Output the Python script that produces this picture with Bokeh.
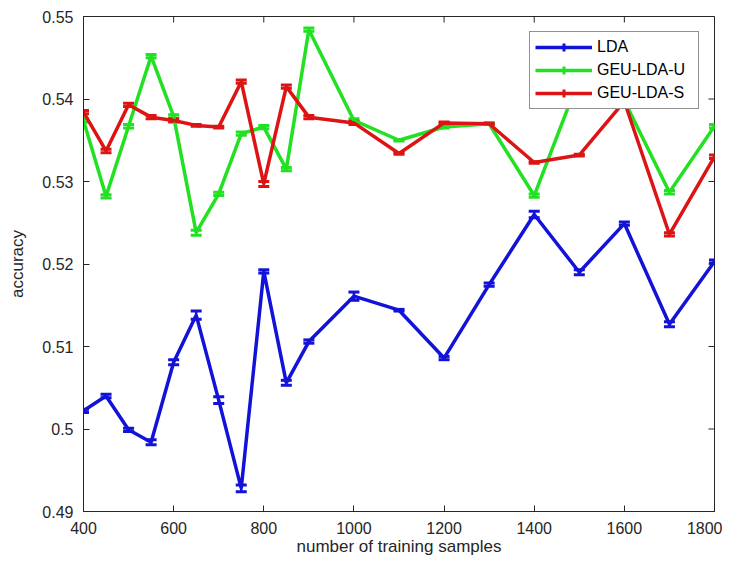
import math
from bokeh.plotting import figure
from bokeh.models import (ColumnDataSource, Whisker, TeeHead, FixedTicker,
                          Legend, LegendItem, Range1d)
from bokeh.embed import file_html
from bokeh.resources import INLINE

# ---- data ----
samples = [400, 450, 500, 550, 600, 650, 700, 750, 800, 850, 900,
           1000, 1100, 1200, 1300, 1400, 1500, 1600, 1700, 1800]

lda = [0.5022, 0.5040, 0.4999, 0.4984, 0.5081, 0.5138, 0.5035, 0.4928, 0.5191, 0.5056, 0.5106,
       0.5161, 0.5144, 0.5086, 0.5175, 0.5260, 0.5190, 0.5249, 0.5127, 0.5203]
lda_err = [0.0002, 0.0002, 0.0002, 0.0003, 0.0003, 0.0005, 0.0004, 0.0004, 0.0002, 0.0003, 0.0002,
           0.0005, 0.0001, 0.0002, 0.0002, 0.0004, 0.0003, 0.0002, 0.0003, 0.0002]

geu_u = [0.5374, 0.5282, 0.5367, 0.5452, 0.5379, 0.5238, 0.5285, 0.5358, 0.5366, 0.5315, 0.5484,
         0.5374, 0.5350, 0.5366, 0.5370, 0.5283, 0.5425, 0.5398, 0.5287, 0.5367]
geu_u_err = [0.0002, 0.0002, 0.0002, 0.0002, 0.0002, 0.0003, 0.0002, 0.0002, 0.0002, 0.0002, 0.0002,
             0.0002, 0.0001, 0.0001, 0.0001, 0.0002, 0.0002, 0.0002, 0.0002, 0.0002]

geu_s = [0.5384, 0.5337, 0.5393, 0.5378, 0.5374, 0.5368, 0.5366, 0.5421, 0.5297, 0.5415, 0.5378,
         0.5371, 0.5334, 0.5371, 0.5370, 0.5323, 0.5332, 0.5397, 0.5236, 0.5330]
geu_s_err = [0.0002, 0.0002, 0.0002, 0.0002, 0.0002, 0.0001, 0.0001, 0.0002, 0.0003, 0.0002, 0.0002,
             0.0002, 0.0001, 0.0001, 0.0001, 0.0001, 0.0001, 0.0002, 0.0002, 0.0002]

series_names = ["LDA", "GEU-LDA-U", "GEU-LDA-S"]
series_colors = ["#1212d8", "#22e022", "#dc1414"]

x_ticks = [400, 600, 800, 1000, 1200, 1400, 1600, 1800]
y_ticks = [0.49, 0.5, 0.51, 0.52, 0.53, 0.54, 0.55]
y_tick_labels = ["0.49", "0.5", "0.51", "0.52", "0.53", "0.54", "0.55"]

FONT = "Liberation Sans"
AXC = "#262626"

p = figure(width=722, height=558, output_backend="svg", toolbar_location=None,
           x_range=Range1d(x_ticks[0], x_ticks[-1]), y_range=Range1d(y_ticks[0], y_ticks[-1]),
           min_border_left=83, min_border_right=8, min_border_top=16, min_border_bottom=45,
           x_axis_label="number of training samples", y_axis_label="accuracy")
p.grid.visible = False
p.outline_line_color = AXC
p.outline_line_width = 1
p.background_fill_color = "white"
p.border_fill_color = "white"

for ax in (p.xaxis[0], p.yaxis[0]):
    ax.major_tick_in = 6
    ax.major_tick_out = 0
    ax.minor_tick_line_color = None
    ax.axis_line_color = AXC
    ax.major_tick_line_color = AXC
    ax.major_label_text_font = FONT
    ax.major_label_text_font_size = "16px"
    ax.major_label_text_color = AXC
    ax.axis_label_text_font = FONT
    ax.axis_label_text_font_size = "17px"
    ax.axis_label_text_font_style = "normal"
    ax.axis_label_text_color = AXC

p.xaxis[0].ticker = FixedTicker(ticks=x_ticks)
p.yaxis[0].ticker = FixedTicker(ticks=y_ticks)
p.yaxis[0].major_label_overrides = {t: s for t, s in zip(y_ticks, y_tick_labels)}
p.xaxis[0].major_label_standoff = 10
p.xaxis[0].axis_label_standoff = 0
p.yaxis[0].major_label_standoff = 10
p.yaxis[0].axis_label_standoff = 12

# inward tick marks on the top and right edges (MATLAB box)
p.ray(x=x_ticks, y=[y_ticks[-1]] * len(x_ticks), length=6, length_units="screen",
      angle=-math.pi / 2, line_color=AXC, line_width=1)
p.ray(x=[x_ticks[-1]] * len(y_ticks), y=y_ticks, length=6, length_units="screen",
      angle=math.pi, line_color=AXC, line_width=1)

items = []
all_vals = [(lda, lda_err), (geu_u, geu_u_err), (geu_s, geu_s_err)]
for name, color, (vals, errs) in zip(series_names, series_colors, all_vals):
    src = ColumnDataSource(dict(
        x=samples, y=vals,
        lower=[v - e for v, e in zip(vals, errs)],
        upper=[v + e for v, e in zip(vals, errs)],
    ))
    line = p.line("x", "y", source=src, line_color=color, line_width=3.5)
    wh = Whisker(source=src, base="x", lower="lower", upper="upper", dimension="height",
                 line_color=color, line_width=2.5,
                 upper_head=TeeHead(size=11, line_color=color, line_width=3),
                 lower_head=TeeHead(size=11, line_color=color, line_width=3))
    p.add_layout(wh)
    # zero-size marker: invisible in the plot, draws the vertical error-bar stroke in the legend
    marker = p.scatter("x", "y", source=src, marker="cross", size=0,
                       line_color=color, line_width=3)
    items.append(LegendItem(label=name, renderers=[line, marker]))

legend = Legend(items=items, location="top_right", margin=15,
                border_line_color=AXC, border_line_width=1,
                background_fill_color="white", background_fill_alpha=1.0,
                label_text_font=FONT, label_text_font_size="16px", label_text_color="black",
                glyph_width=57, glyph_height=20, label_height=20, label_width=96,
                spacing=3, padding=5, label_standoff=5)
p.add_layout(legend)

open("out.html", "w").write(file_html(p, INLINE))
